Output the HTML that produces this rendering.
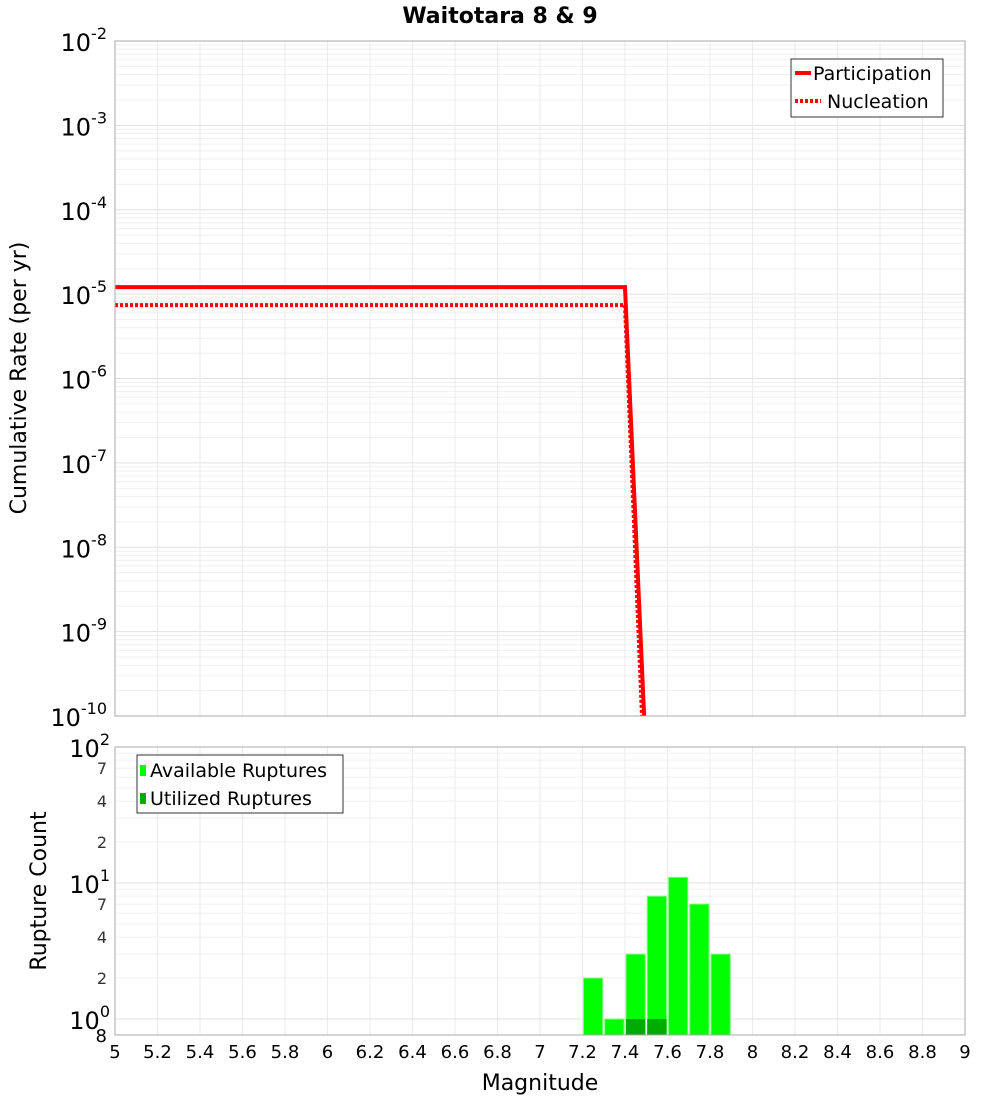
<!DOCTYPE html>
<html><head><meta charset="utf-8"><style>
body{margin:0;background:#fff;font-family:"DejaVu Sans","Liberation Sans",sans-serif;}
svg text{font-family:"DejaVu Sans","Liberation Sans",sans-serif;}
</style></head><body>
<svg id="c" width="1000" height="1100" xmlns="http://www.w3.org/2000/svg">
<text x="500" y="23" text-anchor="middle" font-size="22" font-weight="bold">Waitotara 8 &amp; 9</text>
<g id="topG"></g>
<g id="botG"></g>
<text transform="translate(26,378) rotate(-90)" text-anchor="middle" font-size="22">Cumulative Rate (per yr)</text>
<text transform="translate(46,891) rotate(-90)" text-anchor="middle" font-size="22">Rupture Count</text>
<text x="540" y="1090" text-anchor="middle" font-size="22">Magnitude</text>
</svg>
<script>
const partMags=[5,7.4,7.49];
const partRates=[1.21e-5,1.21e-5,1e-10];
const nuclMags=[5,7.4,7.48];
const nuclRates=[7.4e-6,7.4e-6,1e-10];
const binStarts=[7.2,7.3,7.4,7.5,7.6,7.7,7.8];
const availCounts=[2,1,3,8,11,7,3];
const utilCounts=[0,0,1,1,0,0,0];
const xTicks=[5,5.2,5.4,5.6,5.8,6,6.2,6.4,6.6,6.8,7,7.2,7.4,7.6,7.8,8,8.2,8.4,8.6,8.8,9];
const topDecades=[-2,-3,-4,-5,-6,-7,-8,-9,-10];
const botMinor=[2,4,7,20,40,70];

const NS="http://www.w3.org/2000/svg";
const L=115,R=965;
const X=m=>L+(m-5)/4*(R-L);
const T0=41,T1=716;
const YT=v=>T0+(-2-Math.log10(v))*(T1-T0)/8;
const B0=747,B1=1035;
const YB=v=>883+136*(1-Math.log10(v));
function el(p,tg,a){const e=document.createElementNS(NS,tg);for(const k in a)e.setAttribute(k,a[k]);p.appendChild(e);return e;}
const topG=document.getElementById('topG'),botG=document.getElementById('botG');

for(let d=-10;d<-2;d++){for(let k=1;k<10;k++){const y=YT(k*Math.pow(10,d));const g=el(topG,'line',{x1:L,x2:R,y1:y,y2:y,stroke:k==1?'#e0e0e0':'#efefef','stroke-width':1});}}
for(const tk of xTicks){const x=X(tk);const g=el(topG,'line',{x1:x,x2:x,y1:T0,y2:T1,stroke:'#ebebeb'});
 const g2=el(botG,'line',{x1:x,x2:x,y1:B0,y2:B1,stroke:'#ebebeb'});}
for(const d of topDecades){const y=YT(Math.pow(10,d));const tx=el(topG,'text',{x:107,y:y+10,'text-anchor':'end','font-size':24});tx.textContent='10';const s=el(tx,'tspan',{dy:-12,'font-size':16});s.textContent=d;}
function line(ms,vs,dash,name){const p=el(topG,'polyline',{points:ms.map((m,i)=>X(m)+','+Math.min(YT(vs[i]),T1)).join(' '),fill:'none',stroke:'#ff0000','stroke-width':4});if(dash)p.setAttribute('stroke-dasharray',dash);}
line(nuclMags,nuclRates,'3,2','nucleation-line');
line(partMags,partRates,null,'participation-line');
const f=el(topG,'rect',{x:L,y:T0,width:R-L,height:T1-T0,fill:'none',stroke:'#aaa'});
const lg=el(topG,'g',{});
el(lg,'rect',{x:791,y:59,width:152,height:58,fill:'#fff',stroke:'#333'});
el(lg,'line',{x1:795,x2:811,y1:73,y2:73,stroke:'#f00','stroke-width':4});
el(lg,'line',{x1:795,x2:821,y1:101,y2:101,stroke:'#f00','stroke-width':4,'stroke-dasharray':'3,2'});
let lt=el(lg,'text',{x:813,y:80,'font-size':19});lt.textContent='Participation';
lt=el(lg,'text',{x:827,y:108,'font-size':19});lt.textContent='Nucleation';

for(let d=0;d<2;d++){for(let k=1;k<10;k++){const y=YB(k*Math.pow(10,d));if(y>B1)continue;const g=el(botG,'line',{x1:L,x2:R,y1:y,y2:y,stroke:k==1?'#e0e0e0':'#efefef'});}}
for(const v of botMinor){const tx=el(botG,'text',{x:107,y:YB(v)+6,'text-anchor':'end','font-size':16,fill:'#333'});tx.textContent=String(v).charAt(0);}
for(const d of [0,1,2]){const tx=el(botG,'text',{x:110,y:YB(Math.pow(10,d))+10,'text-anchor':'end','font-size':24});tx.textContent='10';const s=el(tx,'tspan',{dy:-12,'font-size':16});s.textContent=d;}
lt=el(botG,'text',{x:107,y:1042,'text-anchor':'end','font-size':18});lt.textContent='8';
const bw=X(5.1)-X(5);
binStarts.forEach((m,i)=>{const y=YB(availCounts[i]);const b=el(botG,'rect',{x:X(m)+1,y:y,width:bw-2,height:B1-y,fill:'#00ff00',stroke:'#7fff7f','stroke-width':1});
 if(utilCounts[i]>0){const yu=YB(utilCounts[i]);const u=el(botG,'rect',{x:X(m)+1,y:yu,width:bw-2,height:B1-yu,fill:'#00aa00'});}});
const f2=el(botG,'rect',{x:L,y:B0,width:R-L,height:B1-B0,fill:'none',stroke:'#aaa'});
for(const tk of xTicks){const tx=el(botG,'text',{x:X(tk),y:1058,'text-anchor':'middle','font-size':18});tx.textContent=String(tk);}
const lb=el(botG,'g',{});
el(lb,'rect',{x:137,y:755,width:206,height:58,fill:'#fff',stroke:'#333'});
el(lb,'rect',{x:140,y:765,width:6,height:11,fill:'#00ff00'});
el(lb,'rect',{x:140,y:793,width:6,height:11,fill:'#00aa00'});
lt=el(lb,'text',{x:150,y:777,'font-size':19});lt.textContent='Available Ruptures';
lt=el(lb,'text',{x:150,y:805,'font-size':19});lt.textContent='Utilized Ruptures';
</script>
</body></html>
